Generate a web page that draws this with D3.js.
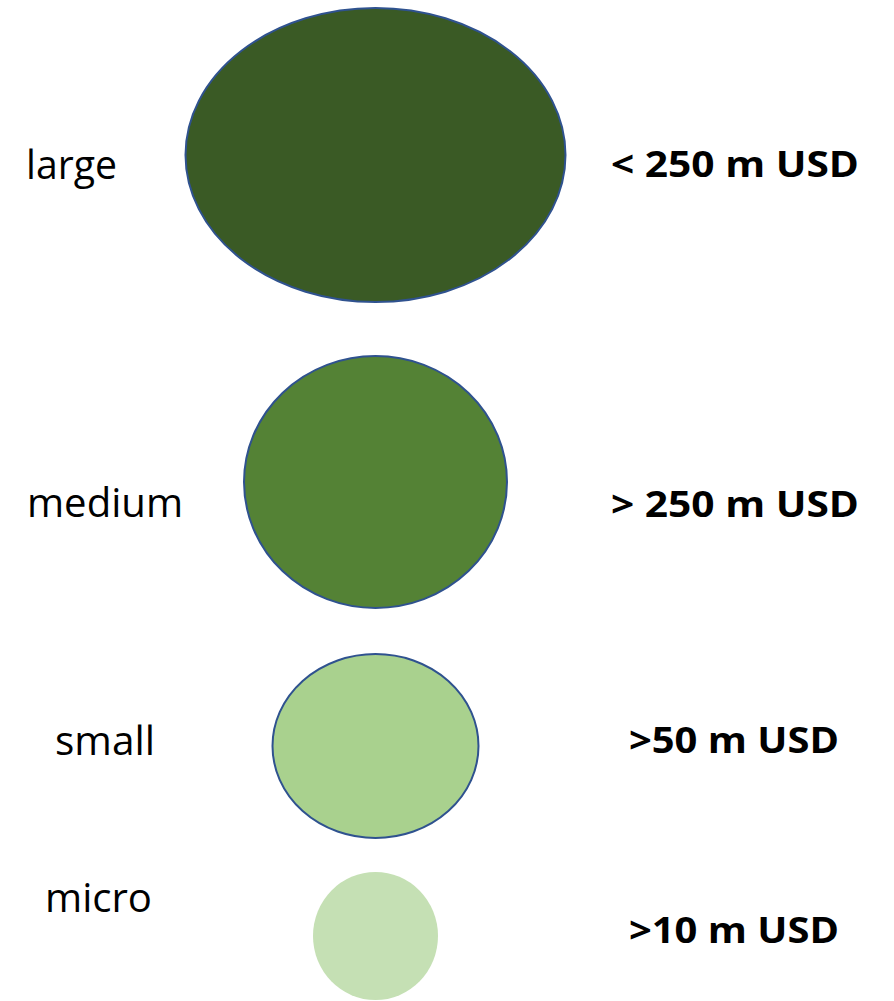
<!DOCTYPE html>
<html>
<head>
<meta charset="utf-8">
<script src="https://cdn.jsdelivr.net/npm/d3@7"></script>
<style>
  html, body { margin: 0; padding: 0; background: #fff; }
  svg { display: block; }
</style>
</head>
<body>
<svg id="chart" width="894" height="1001"></svg>
<script>
// ---- data ----
const categories = ["large", "medium", "small", "micro"];
const thresholds = ["< 250 m USD", "> 250 m USD", ">50 m USD", ">10 m USD"];
const sizeWidth  = [380, 263, 206, 125];   // relative bubble width
const sizeHeight = [294, 252, 184, 128];   // relative bubble height
const fills      = ["#3A5A25", "#548235", "#A9D18E", "#C5E0B4"];
const outlined   = [true, true, true, false];

// ---- layout ----
const svg = d3.select("#chart");
const sz = d3.scaleLinear().domain([0, 1]).range([0, 1]); // px per unit
const gaps = [8, 54, 46, 34];
const cx = 375.5;

let acc = 0;
const rows = categories.map((c, i) => {
  acc += gaps[i];
  const top = acc;
  acc += sz(sizeHeight[i]);
  return { cat: c, thr: thresholds[i], w: sz(sizeWidth[i]), h: sz(sizeHeight[i]),
           cy: top + sz(sizeHeight[i]) / 2, fill: fills[i], outline: outlined[i] };
});

svg.selectAll("ellipse.bubble").data(rows).join("ellipse")
  .attr("class", "bubble")
  .attr("cx", cx)
  .attr("cy", d => d.cy)
  .attr("rx", d => d.w / 2)
  .attr("ry", d => d.h / 2)
  .attr("fill", d => d.fill)
  .attr("stroke", d => d.outline ? "#2F528F" : "none")
  .attr("stroke-width", 2);

// label baselines, anchors and text widths
const leftX = [26, 27, 55, 45];
const leftBase = [179, 517, 755, 912];
const leftLen = [91, 156, 100, 107];
const rightX = [611, 611, 629, 629];
const rightBase = [177, 517, 753, 943];
const rightLen = [248, 248, 210, 210];

svg.selectAll("text.cat").data(rows).join("text")
  .attr("class", "cat")
  .attr("x", (d, i) => leftX[i])
  .attr("y", (d, i) => leftBase[i])
  .attr("font-family", "'Open Sans', sans-serif")
  .attr("font-size", 40)
  .attr("textLength", (d, i) => leftLen[i])
  .attr("lengthAdjust", "spacingAndGlyphs")
  .attr("fill", "#000")
  .text(d => d.cat);

svg.selectAll("text.thr").data(rows).join("text")
  .attr("class", "thr")
  .attr("x", (d, i) => rightX[i])
  .attr("y", (d, i) => rightBase[i])
  .attr("font-family", "'Open Sans', sans-serif")
  .attr("font-weight", "bold")
  .attr("font-size", 35)
  .attr("textLength", (d, i) => rightLen[i])
  .attr("lengthAdjust", "spacingAndGlyphs")
  .attr("fill", "#000")
  .text(d => d.thr);
</script>
</body>
</html>
